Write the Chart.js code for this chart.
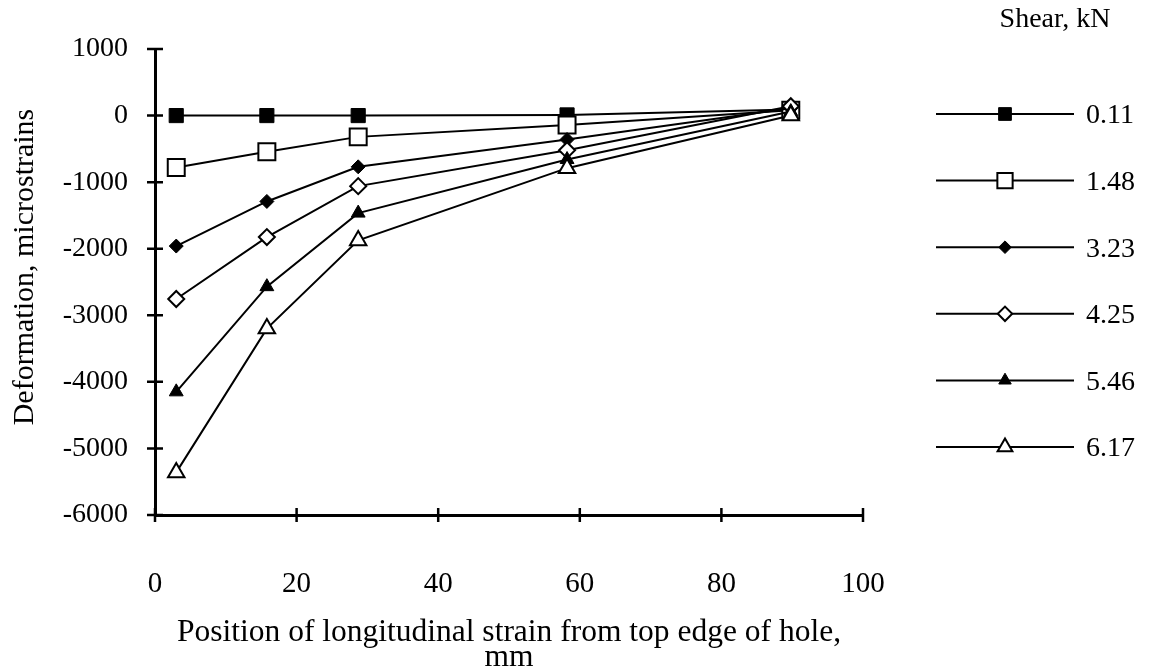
<!DOCTYPE html>
<html>
<head>
<meta charset="utf-8">
<title>Deformation vs position</title>
<script src="https://cdn.jsdelivr.net/npm/chart.js@4.4.1/dist/chart.umd.min.js"></script>
<style>
    html, body { margin: 0; padding: 0; background: #fff; }
    #wrap { width: 1156px; height: 670px; }
</style>
</head>
<body>
<div id="wrap"><canvas id="strain-chart" width="1156" height="670"></canvas></div>
<script>
/* strain gauge positions (mm from top edge of hole) */
const positions = [3, 15.8, 28.7, 58.2, 89.8];

/* shear load for each curve, kN */
const shearLoads = ['0.11', '1.48', '3.23', '4.25', '5.46', '6.17'];

/* deformation, microstrains, one list per load */
const def011 = [0, 0, 0, 10, 90];
const def148 = [-780, -545, -320, -140, 80];
const def323 = [-1960, -1290, -770, -360, 110];
const def425 = [-2755, -1825, -1060, -520, 140];
const def546 = [-4150, -2570, -1465, -660, 60];
const def617 = [-5360, -3200, -1875, -790, 0];

const yTicks = [1000, 0, -1000, -2000, -3000, -4000, -5000, -6000];
const xTicks = [0, 20, 40, 60, 80, 100];

const SERIF = '"Liberation Serif", "Times New Roman", serif';
const INK = '#000';

// marker look per curve: [pointStyle, filled, radius]
const MARKERS = [
    ['rect', true, 10],
    ['rect', false, 12],
    ['rectRot', true, 7],
    ['rectRot', false, 8],
    ['triangle', true, 8],
    ['triangle', false, 9.5],
];

const allSeries = [def011, def148, def323, def425, def546, def617];

const datasets = allSeries.map((vals, i) => {
    const [style, filled, r] = MARKERS[i];
    return {
        label: shearLoads[i],
        data: vals.map((v, k) => ({ x: positions[k], y: v })),
        order: allSeries.length - i,   // later loads paint over earlier ones
        borderColor: INK,
        borderWidth: 2,
        tension: 0,
        pointStyle: style,
        pointRadius: r,
        pointHoverRadius: r,
        pointBackgroundColor: filled ? INK : '#fff',
        pointBorderColor: INK,
        pointBorderWidth: filled ? 1 : 2,
        clip: false,
    };
});

// short ticks that cross both axis lines
const crossTicks = {
    id: 'crossTicks',
    afterDraw(chart) {
        const { ctx, scales: { x, y } } = chart;
        const x0 = x.getPixelForValue(0);
        const y0 = y.getPixelForValue(-6000);
        ctx.save();
        ctx.strokeStyle = INK;
        ctx.lineWidth = 2.5;
        ctx.beginPath();
        yTicks.forEach(v => {
            const py = y.getPixelForValue(v);
            ctx.moveTo(x0 - 8, py);
            ctx.lineTo(x0 + 8, py);
        });
        xTicks.forEach(v => {
            const px = x.getPixelForValue(v);
            ctx.moveTo(px, y0 - 7);
            ctx.lineTo(px, y0 + 7);
        });
        ctx.stroke();
        ctx.restore();
    }
};

// rotated y title plus the "Shear, kN" key on the right
const sideText = {
    id: 'sideText',
    afterDraw(chart) {
        const ctx = chart.ctx;
        ctx.save();
        ctx.fillStyle = INK;
        ctx.textBaseline = 'middle';

        ctx.save();
        ctx.font = '30px ' + SERIF;
        ctx.translate(25, 267);
        ctx.rotate(-Math.PI / 2);
        ctx.textAlign = 'center';
        ctx.fillText('Deformation, microstrains', 0, 0);
        ctx.restore();

        ctx.font = '28px ' + SERIF;
        ctx.textAlign = 'center';
        ctx.fillText('Shear, kN', 1055, 20);

        ctx.textAlign = 'left';
        chart.data.datasets.forEach((ds, i) => {
            const rowY = 114 + i * 66.6;
            ctx.strokeStyle = INK;
            ctx.lineWidth = 2;
            ctx.beginPath();
            ctx.moveTo(936, rowY);
            ctx.lineTo(1074, rowY);
            ctx.stroke();

            ctx.fillStyle = ds.pointBackgroundColor;
            ctx.strokeStyle = INK;
            ctx.lineWidth = ds.pointBorderWidth;
            Chart.helpers.drawPoint(ctx, {
                pointStyle: ds.pointStyle,
                radius: ds.pointRadius * 0.9,
                borderWidth: ds.pointBorderWidth,
                rotation: 0,
            }, 1005, rowY);

            ctx.fillStyle = INK;
            ctx.fillText(ds.label, 1086, rowY + 2);
        });
        ctx.restore();
    }
};

new Chart(document.getElementById('strain-chart'), {
    type: 'line',
    data: { datasets },
    options: {
        responsive: false,
        animation: false,
        events: [],
        layout: { padding: { top: 49, right: 293, left: 0, bottom: 0 } },
        plugins: {
            legend: { display: false },
            tooltip: { enabled: false },
        },
        scales: {
            x: {
                type: 'linear',
                min: 0,
                max: 100,
                afterFit: s => { s.height = 155; },
                afterBuildTicks: s => { s.ticks = xTicks.map(v => ({ value: v })); },
                ticks: {
                    color: INK,
                    font: { family: SERIF, size: 29 },
                    padding: 52,
                    maxRotation: 0,
                    callback: v => String(v),
                },
                grid: { display: false, drawTicks: false },
                border: { color: INK, width: 3 },
                title: {
                    display: true,
                    text: ['Position of longitudinal strain from top edge of hole,', 'mm'],
                    color: INK,
                    font: { family: SERIF, size: 31.5, lineHeight: 0.78 },
                    padding: { top: 0, bottom: 0 },
                },
            },
            y: {
                type: 'linear',
                min: -6000,
                max: 1000,
                afterFit: s => { s.width = 155; },
                afterBuildTicks: s => { s.ticks = yTicks.map(v => ({ value: v })); },
                ticks: {
                    color: INK,
                    font: { family: SERIF, size: 28 },
                    padding: 27,
                    callback: v => String(v),
                },
                grid: { display: false, drawTicks: false },
                border: { color: INK, width: 3 },
            },
        },
    },
    plugins: [crossTicks, sideText],
});
</script>
</body>
</html>
